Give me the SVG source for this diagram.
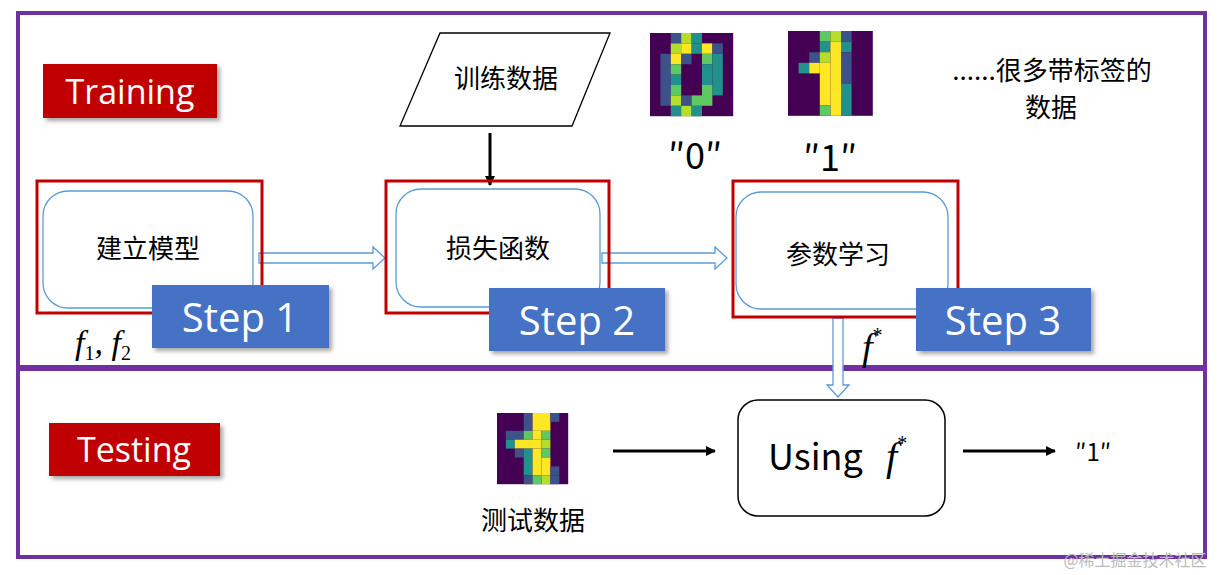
<svg xmlns="http://www.w3.org/2000/svg" width="1220" height="575" viewBox="0 0 1220 575">
<style>
text{font-family:"Microsoft YaHei","Noto Sans CJK SC","Liberation Sans",sans-serif;fill:#000}
.frame{fill:none;stroke:#7030a0;stroke-width:4}
.lab{fill:#c00000}
.labt{fill:#fff;font-size:34px;font-family:"Open Sans","Liberation Sans",sans-serif}
.red{fill:none;stroke:#c00000;stroke-width:3}
.blue{fill:#fff;stroke:#5b9bd5;stroke-width:1.3}
.step{fill:#4472c4}
.stept{fill:#fff;font-size:40px;font-family:"Open Sans","Liberation Sans",sans-serif}
.hol{fill:#fff;stroke:#5b9bd5;stroke-width:1.3}
.cn{font-size:26px}
.m{font-family:"Liberation Serif",serif;font-style:italic}
.P{fill:#440154}.B{fill:#3b528b}.T{fill:#21918c}.G{fill:#5ec962}.Y{fill:#fde725}.L{fill:#b5de2b}
</style>
<defs>
<marker id="ah" markerWidth="10" markerHeight="10" refX="9" refY="5" orient="auto" markerUnits="userSpaceOnUse"><path d="M0,0 L10,5 L0,10 z" fill="#000"/></marker>
<filter id="sh" x="-10%" y="-10%" width="130%" height="140%"><feDropShadow dx="3" dy="3" stdDeviation="2" flood-opacity="0.35"/></filter>
</defs>
<rect width="1220" height="575" fill="#fff"/>
<rect class="frame" x="18" y="13" width="1187" height="354"/>
<rect class="frame" x="18" y="369" width="1187" height="188"/>

<g id="training"><rect class="lab" x="43" y="64" width="174" height="54" filter="url(#sh)"/><text class="labt" x="130" y="104" text-anchor="middle">Training</text></g>
<g id="testing"><rect class="lab" x="49" y="423" width="171" height="53" filter="url(#sh)"/><text class="labt" x="134" y="462" text-anchor="middle">Testing</text></g>

<g id="data"><polygon points="440,33 610,33 572,126 400,126" fill="#fff" stroke="#000" stroke-width="1.3"/><text class="cn" x="506" y="88" text-anchor="middle">训练数据</text></g>

<g id="img0" transform="translate(650,33) scale(10.4)">
<rect class="P" width="8" height="8"/>
<rect class="B" x="2" y="0" width="1" height="1"/><rect class="L" x="3" y="0" width="1" height="1"/><rect class="T" x="4" y="0" width="1" height="1"/>
<rect class="L" x="2" y="1" width="1" height="1"/><rect class="Y" x="3" y="1" width="1" height="1"/><rect class="T" x="4" y="1" width="1" height="1"/><rect class="Y" x="5" y="1" width="1" height="1"/><rect class="B" x="6" y="1" width="1" height="1"/>
<rect class="B" x="1" y="2" width="1" height="5"/><rect class="Y" x="2" y="2" width="1" height="1"/><rect class="B" x="3" y="2" width="1" height="1"/><rect class="G" x="5" y="2" width="1" height="1"/><rect class="T" x="6" y="2" width="1" height="4"/>
<rect class="G" x="2" y="3" width="1" height="1"/><rect class="T" x="5" y="3" width="1" height="2"/>
<rect class="T" x="2" y="4" width="1" height="1"/>
<rect class="G" x="2" y="5" width="1" height="1"/><rect class="G" x="5" y="5" width="1" height="2"/>
<rect class="L" x="2" y="6" width="1" height="1"/><rect class="B" x="3" y="6" width="1" height="1"/><rect class="G" x="4" y="6" width="1" height="1"/>
<rect class="T" x="2" y="7" width="1" height="1"/><rect class="L" x="3" y="7" width="1" height="1"/><rect class="T" x="4" y="7" width="1" height="1"/>
</g>
<g id="img1" transform="translate(788,31) scale(10.6)">
<rect class="P" width="8" height="8"/>
<rect class="G" x="3" y="0" width="1" height="1"/><rect class="L" x="4" y="0" width="1" height="1"/><rect class="B" x="5" y="0" width="1" height="1"/>
<rect class="T" x="3" y="1" width="1" height="1"/><rect class="Y" x="4" y="1" width="1" height="7"/><rect class="T" x="5" y="1" width="1" height="1"/>
<rect class="B" x="2" y="2" width="1" height="1"/><rect class="L" x="3" y="2" width="1" height="1"/><rect class="B" x="5" y="2" width="1" height="3"/>
<rect class="T" x="1" y="3" width="1" height="1"/><rect class="Y" x="2" y="3" width="1" height="1"/><rect class="Y" x="3" y="3" width="1" height="4"/>
<rect class="T" x="5" y="5" width="1" height="3"/><rect class="G" x="3" y="7" width="1" height="1"/>
</g>
<text x="695" y="169" font-size="36" text-anchor="middle" font-family="Liberation Sans,sans-serif">″0″</text>
<text x="830" y="171" font-size="36" text-anchor="middle" font-family="Liberation Sans,sans-serif">″1″</text>
<text class="cn" x="1052" y="80" text-anchor="middle" font-size="29">......很多带标签的</text>
<text class="cn" x="1051" y="117" text-anchor="middle" font-size="29">数据</text>

<g id="connectors">
<line x1="490" y1="133" x2="490" y2="185" stroke="#000" stroke-width="3" marker-end="url(#ah)"/>
<polygon class="hol" points="259,253 373,253 373,247 385,258 373,269 373,263 259,263"/>
<polygon class="hol" points="602,253 715,253 715,247 727,258 715,269 715,263 602,263"/>
<polygon class="hol" points="833,318 843,318 843,385 849,385 838,397 827,385 833,385"/>
<line x1="613" y1="451" x2="715" y2="451" stroke="#000" stroke-width="3" marker-end="url(#ah)"/>
<line x1="963" y1="451" x2="1055" y2="451" stroke="#000" stroke-width="3" marker-end="url(#ah)"/>
</g>

<g id="step1"><rect class="red" x="37" y="181" width="225" height="132"/><rect class="blue" x="43" y="191" width="210" height="117" rx="25"/><text class="cn" x="148" y="258" text-anchor="middle">建立模型</text>
<rect class="step" x="152" y="285" width="177" height="63" filter="url(#sh)"/><text class="stept" x="240" y="332" text-anchor="middle">Step 1</text></g>
<g id="step2"><rect class="red" x="386" y="181" width="223" height="132"/><rect class="blue" x="396" y="189" width="204" height="118" rx="25"/><text class="cn" x="498" y="258" text-anchor="middle">损失函数</text>
<rect class="step" x="489" y="288" width="176" height="63" filter="url(#sh)"/><text class="stept" x="577" y="335" text-anchor="middle">Step 2</text></g>
<g id="step3"><rect class="red" x="733" y="181" width="225" height="136"/><rect class="blue" x="736" y="192" width="212" height="117" rx="25"/><text class="cn" x="838" y="264" text-anchor="middle">参数学习</text>
<rect class="step" x="916" y="288" width="175" height="63" filter="url(#sh)"/><text class="stept" x="1003" y="335" text-anchor="middle">Step 3</text></g>

<text class="m" x="75" y="354" font-size="34">f<tspan font-size="20" dy="6" font-style="normal">1</tspan><tspan dy="-6">, f</tspan><tspan font-size="20" dy="6" font-style="normal">2</tspan></text>
<text class="m" x="862" y="360" font-size="38">f<tspan font-size="20" dy="-18" font-style="normal">*</tspan></text>

<g id="testimg" transform="translate(497,413) scale(8.9)">
<rect class="P" width="8" height="8"/>
<rect class="B" x="3" y="0" width="1" height="2"/><rect class="Y" x="4" y="0" width="2" height="2"/><rect class="B" x="6" y="0" width="1" height="1"/>
<rect class="B" x="1" y="2" width="2" height="1"/><rect class="G" x="3" y="2" width="1" height="1"/><rect class="Y" x="4" y="2" width="1" height="1"/><rect class="G" x="5" y="2" width="1" height="1"/>
<rect class="T" x="1" y="3" width="1" height="1"/><rect class="Y" x="2" y="3" width="3" height="1"/><rect class="L" x="5" y="3" width="1" height="1"/>
<rect class="B" x="2" y="4" width="1" height="1"/><rect class="T" x="3" y="4" width="1" height="3"/><rect class="Y" x="4" y="4" width="1" height="3"/><rect class="G" x="5" y="4" width="1" height="1"/>
<rect class="Y" x="5" y="5" width="1" height="2"/><rect class="B" x="6" y="6" width="1" height="1"/>
<rect class="B" x="3" y="7" width="1" height="1"/><rect class="G" x="4" y="7" width="1" height="1"/><rect class="L" x="5" y="7" width="1" height="1"/><rect class="B" x="6" y="7" width="1" height="1"/>
</g>
<text class="cn" x="533" y="530" text-anchor="middle">测试数据</text>

<g id="using"><rect x="738" y="400" width="207" height="116" rx="20" fill="#fff" stroke="#000" stroke-width="1.5"/>
<text x="768" y="470" font-size="36" font-family="Open Sans,Liberation Sans,sans-serif">Using</text>
<text class="m" x="886" y="470" font-size="40">f<tspan font-size="20" dy="-20" font-style="normal">*</tspan></text></g>
<text x="1075" y="461" font-size="24" font-family="Liberation Sans,sans-serif">″1″</text>
<text x="1135" y="566" font-size="16" text-anchor="middle" fill="#bbb" style="fill:#bbb">@稀土掘金技术社区</text>
</svg>
